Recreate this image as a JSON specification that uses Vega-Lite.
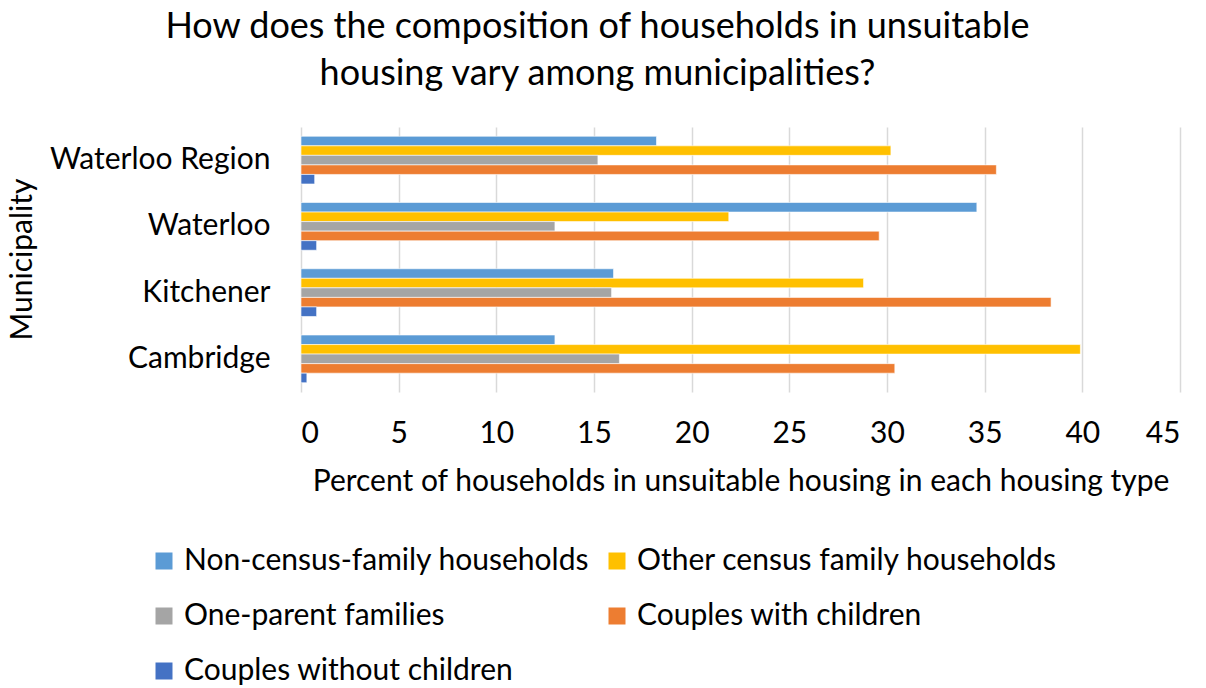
{
  "$schema": "https://vega.github.io/schema/vega-lite/v6.json",
  "width": 879,
  "height": 265,
  "autosize": {"type": "none"},
  "padding": {"left": 301, "top": 127, "right": 26, "bottom": 296},
  "background": "white",
  "title": {
    "text": ["How does the composition of households in unsuitable", "housing vary among municipalities?"],
    "font": "Lato",
    "fontSize": 36,
    "fontWeight": "normal",
    "color": "#000000",
    "anchor": "middle",
    "dx": -143,
    "lineHeight": 47,
    "offset": 34
  },
  "data": {
    "values": [
      {"municipality": "Waterloo Region", "type": "Non-census-family households", "value": 18.2},
      {"municipality": "Waterloo Region", "type": "Other census family households", "value": 30.2},
      {"municipality": "Waterloo Region", "type": "One-parent families", "value": 15.2},
      {"municipality": "Waterloo Region", "type": "Couples with children", "value": 35.6},
      {"municipality": "Waterloo Region", "type": "Couples without children", "value": 0.7},
      {"municipality": "Waterloo", "type": "Non-census-family households", "value": 34.6},
      {"municipality": "Waterloo", "type": "Other census family households", "value": 21.9},
      {"municipality": "Waterloo", "type": "One-parent families", "value": 13.0},
      {"municipality": "Waterloo", "type": "Couples with children", "value": 29.6},
      {"municipality": "Waterloo", "type": "Couples without children", "value": 0.8},
      {"municipality": "Kitchener", "type": "Non-census-family households", "value": 16.0},
      {"municipality": "Kitchener", "type": "Other census family households", "value": 28.8},
      {"municipality": "Kitchener", "type": "One-parent families", "value": 15.9},
      {"municipality": "Kitchener", "type": "Couples with children", "value": 38.4},
      {"municipality": "Kitchener", "type": "Couples without children", "value": 0.8},
      {"municipality": "Cambridge", "type": "Non-census-family households", "value": 13.0},
      {"municipality": "Cambridge", "type": "Other census family households", "value": 39.9},
      {"municipality": "Cambridge", "type": "One-parent families", "value": 16.3},
      {"municipality": "Cambridge", "type": "Couples with children", "value": 30.4},
      {"municipality": "Cambridge", "type": "Couples without children", "value": 0.3}
    ]
  },
  "mark": {"type": "bar", "stroke": "white", "strokeWidth": 0.6},
  "encoding": {
    "y": {
      "field": "municipality",
      "type": "nominal",
      "sort": ["Waterloo Region", "Waterloo", "Kitchener", "Cambridge"],
      "scale": {"paddingInner": 0.28, "paddingOuter": 0.14},
      "axis": {
        "title": "Municipality",
        "titleFont": "Lato",
        "titleFontSize": 30,
        "titleFontWeight": "normal",
        "titleColor": "#000000",
        "titleAngle": -90,
        "titleX": -279,
        "titleY": 132,
        "titleAlign": "center",
        "titleBaseline": "middle",
        "labelFont": "Lato",
        "labelFontSize": 30,
        "labelColor": "#000000",
        "labelLimit": 400,
        "labelPadding": 31,
        "domain": false,
        "ticks": false
      }
    },
    "yOffset": {
      "field": "type",
      "type": "nominal",
      "sort": ["Non-census-family households", "Other census family households", "One-parent families", "Couples with children", "Couples without children"],
      "scale": {"paddingInner": 0, "paddingOuter": 0}
    },
    "x": {
      "field": "value",
      "type": "quantitative",
      "scale": {"domain": [0, 45], "nice": false},
      "axis": {
        "values": [0, 5, 10, 15, 20, 25, 30, 35, 40, 45],
        "title": "Percent of households in unsuitable housing in each housing type",
        "titleFont": "Lato",
        "titleFontSize": 30,
        "titleFontWeight": "normal",
        "titleColor": "#000000",
        "titlePadding": 18,
        "labelFont": "Lato",
        "labelFontSize": 30,
        "labelColor": "#000000",
        "labelPadding": 26,
        "domain": false,
        "ticks": false,
        "grid": true,
        "gridColor": "#D9D9D9",
        "gridWidth": 1.5
      }
    },
    "color": {
      "field": "type",
      "type": "nominal",
      "sort": ["Non-census-family households", "Other census family households", "One-parent families", "Couples with children", "Couples without children"],
      "scale": {
        "domain": ["Non-census-family households", "Other census family households", "One-parent families", "Couples with children", "Couples without children"],
        "range": ["#5B9BD5", "#FFC000", "#A5A5A5", "#ED7D31", "#4472C4"]
      },
      "legend": {
        "title": null,
        "orient": "none",
        "direction": "horizontal",
        "legendX": -152,
        "legendY": 419,
        "columns": 2,
        "symbolType": "square",
        "symbolSize": 289,
        "symbolStrokeWidth": 0,
        "labelFont": "Lato",
        "labelFontSize": 30,
        "labelColor": "#000000",
        "labelLimit": 600,
        "labelOffset": 5,
        "rowPadding": 25,
        "columnPadding": 12
      }
    }
  },
  "config": {"view": {"stroke": null}}
}
